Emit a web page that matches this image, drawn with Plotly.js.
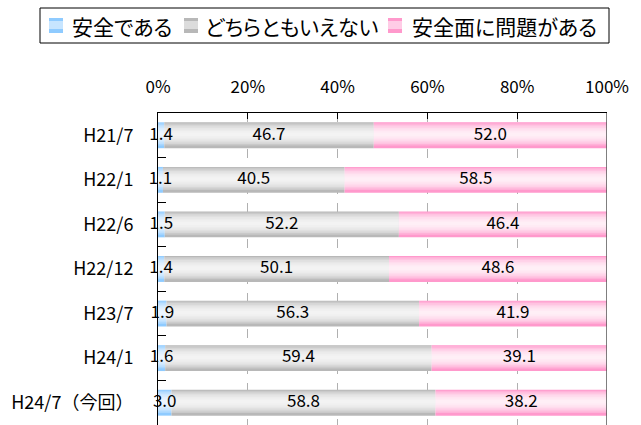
<!DOCTYPE html>
<html><head><meta charset="utf-8">
<script src="https://cdn.plot.ly/plotly-3.0.1.min.js"></script>
<style>body{margin:0;background:#fff}#c{width:641px;height:425px}
.annotation-text{font-feature-settings:"palt";}</style>
</head><body><div id="c"></div>
<script>
const categories = ['H21/7','H22/1','H22/6','H22/12','H23/7','H24/1','H24/7（今回）'];
const safe    = [1.4, 1.1, 1.5, 1.4, 1.9, 1.6, 3.0];
const neither = [46.7, 40.5, 52.2, 50.1, 56.3, 59.4, 58.8];
const problem = [52.0, 58.5, 46.4, 48.6, 41.9, 39.1, 38.2];
const seriesNames = ['安全である','どちらともいえない','安全面に問題がある'];
const tickVals = [0,20,40,60,80,100];
const tickText = ['0%','20%','40%','60%','80%','100%'];

const colors = ['#8fcbff','#b8b8b8','#ff99cc'];
const FONT = '"Noto Sans CJK JP", sans-serif';
const series = [safe, neither, problem];
const totals = categories.map((c,i)=>safe[i]+neither[i]+problem[i]);
const shares = series.map(s=>s.map((v,i)=>v/totals[i]*100));
const bases = shares.map((s,k)=>s.map((v,i)=>{let b=0;for(let j=0;j<k;j++)b+=shares[j][i];return b;}));

const traces = [];
const BW = 0.58;
series.forEach((s,k)=>{
  traces.push({type:'bar',orientation:'h',y:categories,x:shares[k],base:bases[k],width:BW,
    name:seriesNames[k],marker:{color:colors[k],line:{width:0}},hoverinfo:'skip',showlegend:false});
});
// highlight layers to mimic the vertical gradient
[0.50,0.43,0.36,0.29,0.22,0.15,0.08].forEach(w=>{
  series.forEach((s,k)=>{
    traces.push({type:'bar',orientation:'h',y:categories,x:shares[k],base:bases[k],width:w,offset:-w/2-0.02,
      showlegend:false,marker:{color:'rgba(255,255,255,0.24)',line:{width:0}},hoverinfo:'skip'});
  });
});
series.forEach((s,k)=>{
  traces.push({type:'scatter',mode:'text',y:categories,
    x:shares[k].map((v,i)=>bases[k][i]+v/2),
    text:s.map(v=>v.toFixed(1)),textposition:'middle center',
    textfont:{family:FONT,size:17,color:'#000'},showlegend:false,hoverinfo:'skip',cliponaxis:false});
});

// manual legend (pixel layout converted to paper coords)
const PL=158, PW=449, PT=113, PH=312;
const px = v => (v-PL)/PW;
const py = v => (PT+PH-v)/PH;
const shapes = [
  {type:'rect',xref:'paper',yref:'paper',x0:px(40),x1:px(609),y0:py(43),y1:py(8),line:{color:'#000',width:1},fillcolor:'#fff'},
  {type:'line',xref:'x',yref:'paper',x0:100,x1:100,y0:0,y1:1,line:{color:'#555',width:1.5}}
];
const annotations = [];
const legMarkX = [49,184,388], legTextX = [70,203,410];
seriesNames.forEach((n,k)=>{
  shapes.push({type:'rect',xref:'paper',yref:'paper',x0:px(legMarkX[k]),x1:px(legMarkX[k]+14),y0:py(33),y1:py(18),
    line:{width:0},fillcolor:colors[k]});
  shapes.push({type:'rect',xref:'paper',yref:'paper',x0:px(legMarkX[k]),x1:px(legMarkX[k]+14),y0:py(29),y1:py(21),
    line:{width:0},fillcolor:'rgba(255,255,255,0.5)'});
  annotations.push({xref:'paper',yref:'paper',x:px(legTextX[k]),y:py(26),xanchor:'left',yanchor:'middle',
    text:n,showarrow:false,font:{family:FONT,size:21,color:'#000'}});
});

const layout = {
  width:641,height:425,
  margin:{l:158,r:34,t:113,b:0},
  paper_bgcolor:'#fff',plot_bgcolor:'#fff',
  barmode:'overlay',
  font:{family:FONT,size:17,color:'#000'},
  showlegend:false,
  xaxis:{side:'top',range:[0,100],tickvals:tickVals,ticktext:tickText,
    showgrid:true,gridcolor:'#b0b0b0',griddash:'dash',gridwidth:1,
    ticks:'inside',ticklen:6,tickcolor:'#000',
    showline:true,linecolor:'#000',linewidth:1,mirror:false,zeroline:false,
    ticklabelstandoff:12,fixedrange:true,tickfont:{family:FONT,size:17}},
  yaxis:{type:'category',autorange:'reversed',
    showline:true,linecolor:'#000',linewidth:1,
    ticks:'inside',tickson:'boundaries',ticklen:8,tickcolor:'#000',
    showgrid:false,ticklabelstandoff:20,fixedrange:true,tickfont:{family:FONT,size:18}},
  shapes:shapes,
  annotations:annotations
};
Plotly.newPlot('c',traces,layout,{displayModeBar:false,staticPlot:true});
</script></body></html>
